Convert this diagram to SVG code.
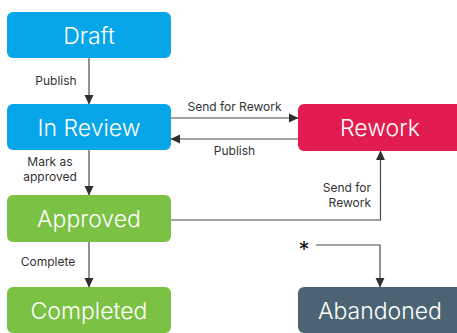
<svg xmlns="http://www.w3.org/2000/svg" width="457" height="333" viewBox="0 0 457 333">
<style>
.box text{fill:#fff;font-family:Inter,"Liberation Sans",sans-serif;font-weight:300;font-size:23px;text-anchor:middle}
.lbl{fill:#333;font-family:Inter,"Liberation Sans",sans-serif;font-size:12px}
.edge{fill:none;stroke:#4a4a4a;stroke-width:1.2}
</style>
<defs>
<marker id="ah" markerWidth="10" markerHeight="10" refX="9" refY="5" orient="auto" markerUnits="userSpaceOnUse">
<path d="M0,0.5 L9.5,5 L0,9.5 Z" fill="#2f2f2f"/>
</marker>
</defs>
<rect width="457" height="333" fill="#fff"/>
<g id="draft" class="box"><rect x="7" y="12" width="164" height="46" rx="6" fill="#06a6e8"/><text x="89" y="43.5">Draft</text></g>
<g id="inreview" class="box"><rect x="7" y="104" width="164" height="46" rx="6" fill="#06a6e8"/><text x="89" y="135.5">In Review</text></g>
<g id="rework" class="box"><rect x="298" y="104" width="164" height="47" rx="6" fill="#e21c4e"/><text x="380" y="135.5">Rework</text></g>
<g id="approved" class="box"><rect x="7" y="195" width="164" height="47" rx="6" fill="#7bc143"/><text x="89" y="227">Approved</text></g>
<g id="completed" class="box"><rect x="7" y="287" width="164" height="46" rx="6" fill="#7bc143"/><text x="89" y="318.5">Completed</text></g>
<g id="abandoned" class="box"><rect x="298" y="287" width="164" height="46" rx="6" fill="#4b6372"/><text x="380" y="318.5">Abandoned</text></g>
<g id="connectors">
<path class="edge" d="M89,58 V104" marker-end="url(#ah)"/>
<path class="edge" d="M171,118 H298" marker-end="url(#ah)"/>
<path class="edge" d="M298,139 H171" marker-end="url(#ah)"/>
<path class="edge" d="M89,150 V195" marker-end="url(#ah)"/>
<path class="edge" d="M171,220 H380.5 V151" marker-end="url(#ah)"/>
<path class="edge" d="M89,242 V287" marker-end="url(#ah)"/>
<path class="edge" d="M316,245 H380 V287" marker-end="url(#ah)"/>
<text class="lbl" x="56" y="85" text-anchor="middle">Publish</text>
<text class="lbl" x="234.5" y="111" text-anchor="middle">Send for Rework</text>
<text class="lbl" x="234.5" y="155" text-anchor="middle">Publish</text>
<text class="lbl" x="50" y="166" text-anchor="middle">Mark as</text>
<text class="lbl" x="50" y="181" text-anchor="middle">approved</text>
<text class="lbl" x="371" y="192" text-anchor="end">Send for</text>
<text class="lbl" x="371" y="207" text-anchor="end">Rework</text>
<text class="lbl" x="48" y="266" text-anchor="middle">Complete</text>
<text x="304" y="257" text-anchor="middle" fill="#111" font-family="Inter,'Liberation Sans',sans-serif" font-size="22">*</text>
</g>
</svg>
